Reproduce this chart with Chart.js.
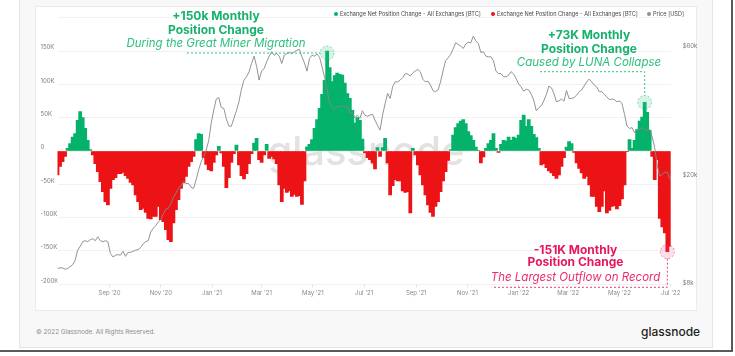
<!DOCTYPE html>
<html><head><meta charset="utf-8">
<script src="https://cdn.jsdelivr.net/npm/chart.js@4.4.1/dist/chart.umd.min.js"></script>
<style>
html,body{margin:0;padding:0;background:#fff;width:735px;height:356px;overflow:hidden;font-family:Inter,"Noto Sans",sans-serif;}
#card{position:absolute;left:19px;top:-2px;width:694px;height:350px;background:#f8f8f8;border:1px solid #e4e4e4;box-sizing:border-box;}
#panel{position:absolute;left:35px;top:6px;width:662px;height:305px;background:#fff;border:1px solid #ebebeb;box-sizing:border-box;}
#frameR{position:absolute;left:731px;top:0;width:2px;height:352px;background:#5a5a5a;}
#frameB{position:absolute;left:0;top:350px;width:733px;height:2px;background:#5a5a5a;}
#wrap{position:absolute;left:0;top:0;width:735px;height:320px;}
.leg{position:absolute;top:10.8px;font-size:5.6px;line-height:7px;color:#444;white-space:nowrap;}
.leg i{position:absolute;left:-6px;top:1.5px;width:4px;height:4px;border-radius:50%;}
#copy{position:absolute;left:36px;top:328px;font-size:6.3px;line-height:8px;color:#8c8c8c;white-space:nowrap;}
#logo{position:absolute;left:641px;top:324px;font-size:12px;line-height:16px;font-weight:500;color:#222;}
</style></head>
<body>
<div id="card"></div>
<div id="panel"></div>
<div id="frameR"></div><div id="frameB"></div>
<div id="wrap"><canvas id="c"></canvas></div>
<div class="leg" style="left:340px"><i style="background:#05b26b"></i>Exchange Net Position Change - All Exchanges [BTC]</div>
<div class="leg" style="left:497px"><i style="background:#ec1316"></i>Exchange Net Position Change - All Exchanges [BTC]</div>
<div class="leg" style="left:653px"><i style="background:#8f8f8f"></i>Price [USD]</div>
<div id="copy">© 2022 Glassnode. All Rights Reserved.</div>
<div id="logo">glassnode</div>
<script>
// ---- data (one point every 3 days starting 2020-07-01) ----
const startDate = '2020-07-01';
const stepDays = 3;
// Exchange net position change, thousands of BTC
const netPositionK = [
 -36,-23,-16,-8,4,11,21,26,46,59,
 50,34,16,2,-6,-19,-31,-46,-61,-76,
 -81,-56,-43,-40,-34,-34,-32,-37,-41,-47,
 -51,-66,-76,-88,-86,-92,-101,-102,-98,-98,
 -83,-103,-106,-118,-133,-136,-108,-88,-73,-56,
 -48,-38,-23,-16,-8,17,26,25,-10,-20,
 -28,-30,-17,-6,7,-3,-23,-55,-40,-17,
 -4,9,-21,-37,-42,-34,-19,-4,12,19,
 -13,-17,-6,10,-11,-8,-12,-19,-51,-76,
 -56,-62,-60,-68,-65,-68,-67,-80,-45,6,
 10,17,34,47,64,85,106,150,125,104,
 113,117,115,114,102,86,79,61,42,50,
 46,
 18,-3,-10,-13,-18,-27,5,-8,5,19,
 -18,-66,-52,-43,-45,-45,-60,-62,-61,-93,
 4,-6,-21,-36,-51,-66,-81,-92,-98,-83,
 -76,-61,-45,-31,-14,2,24,35,41,45,
 47,41,29,23,16,6,1,-18,-9,4,
 11,16,26,4,-2,10,16,15,21,
 16,21,19,24,46,54,37,47,37,25,
 20,4,-21,-19,-25,-30,-33,-37,-41,-36,
 -23,-10,6,14,11,-2,-18,-26,-33,-41,
 -38,-51,-68,-68,-83,-91,-83,-60,-93,-89,
 -83,-82,-87,-82,-72,-51,-1,17,4,16,
 32,45,51,73,58,31,-8,-43,-13,-101,
 -114,-123,-151,-143
];
// BTC price, thousands of USD
const priceK = [
 9.15,9.2,9.2,9.1,9.15,9.3,9.45,9.8,10.7,11.05,
 11.5,11.6,11.5,11.7,11.8,11.6,12.0,11.6,11.5,11.6,
 11.5,10.4,10.1,10.25,10.3,10.25,10.6,10.15,10.5,10.5,
 10.6,10.7,10.75,10.95,11.3,11.5,11.6,12.5,12.9,13.2,
 13.6,13.9,14.6,15.2,15.3,15.9,16.8,17.4,18.1,18.6,
 19.2,18.9,18.9,18.3,18.1,19.5,21.2,22.7,23.7,25.1,
 27.2,31.6,35.3,38.8,39.3,36.1,35.8,32.8,30.8,30.8,
 32.9,35.1,37.9,42.2,45.6,46.9,48.9,52.5,55.9,51.3,
 45.6,49.3,50.3,53.3,55.9,58.0,56.4,57.2,55.9,52.5,
 56.4,57.2,57.7,57.2,58.0,58.8,59.2,55.6,52.8,49.2,
 54.8,56.4,55.9,56.9,55.3,51.0,46.6,41.9,37.3,36.1,
 35.5,36.5,36.1,36.8,36.1,36.5,34.5,34.5,33.1,33.8,
 32.9,
 35.1,33.8,33.5,33.8,34.1,32.4,31.0,29.8,33.8,37.3,
 40.7,39.0,43.1,44.9,44.9,45.6,46.6,48.2,48.0,47.2,
 48.5,49.3,49.9,48.9,45.9,44.9,45.2,43.7,41.7,41.3,
 41.9,44.9,49.3,53.8,55.1,56.7,59.4,62.6,61.8,60.9,
 59.7,62.0,63.0,62.6,66.3,63.7,62.3,57.7,58.0,55.9,
 55.6,55.6,53.8,49.2,48.2,48.2,46.9,46.9,47.5,
 49.0,48.0,46.2,44.1,43.0,41.5,42.2,41.9,40.4,38.4,
 35.1,36.0,36.7,38.2,40.4,43.3,42.7,40.7,37.9,38.2,
 38.8,38.1,41.7,39.0,39.0,39.3,40.1,41.3,41.9,43.4,
 44.9,46.0,44.9,43.7,43.0,41.3,41.3,40.4,39.5,38.6,
 38.8,38.6,37.9,38.2,37.3,34.1,30.8,30.2,30.4,29.1,
 29.9,29.9,30.4,29.8,29.8,29.9,28.1,25.6,22.1,20.1,
 20.4,20.8,20.8,19.6
];
const xTickDates = ['2020-09-01','2020-11-01','2021-01-01','2021-03-01','2021-05-01','2021-07-01','2021-09-01','2021-11-01','2022-01-01','2022-03-01','2022-05-01','2022-07-01'];
const xTickLabels = ["Sep '20","Nov '20","Jan '21","Mar '21","May '21","Jul '21","Sep '21","Nov '21","Jan '22","Mar '22","May '22","Jul '22"];
const priceTicks = [8, 20, 60];
const priceTickLabels = ['$8k', '$20k', '$60k'];
// annotated points: date offset (days) and value (K BTC)
const noteDays = [321, 699, 726];
const noteValues = [147, 73, -151];

// ---- helpers ----
function dayOf(s){const a=s.split('-').map(Number),b=startDate.split('-').map(Number);return (Date.UTC(a[0],a[1]-1,a[2])-Date.UTC(b[0],b[1]-1,b[2]))/864e5;}
const lastDay = dayOf('2022-07-01');
const xTickDays = xTickDates.map(dayOf);
const GREEN='#05b26b', RED='#ec1316';
const posData = netPositionK.map((v,i)=>({x:i*stepDays,y:v})).filter(p=>p.y>=0);
const negData = netPositionK.map((v,i)=>({x:i*stepDays,y:v})).filter(p=>p.y<0);
const priceData = priceK.map((v,i)=>({x:i*stepDays,y:v}));

Chart.defaults.font.family = 'Inter, "Noto Sans", sans-serif';

const watermark = {
  id:'watermark',
  beforeDatasetsDraw(chart){
    const {ctx}=chart;
    ctx.save();
    ctx.font='500 40px Inter, sans-serif';
    ctx.fillStyle='#e2e2e2';
    ctx.textAlign='center';ctx.textBaseline='alphabetic';
    ctx.fillText('glassnode', 366, 165);
    ctx.restore();
  }
};

function circle(ctx,cx,cy,r,fill,stroke){
  ctx.save();
  ctx.setLineDash([2,2]);
  ctx.beginPath();ctx.arc(cx,cy,r,0,Math.PI*2);
  ctx.fillStyle=fill;ctx.fill();
  ctx.strokeStyle=stroke;ctx.lineWidth=1;ctx.stroke();
  ctx.restore();
}
function lines(ctx,pts,color){
  ctx.save();ctx.setLineDash([2,2]);ctx.strokeStyle=color;ctx.lineWidth=1;
  ctx.beginPath();ctx.moveTo(pts[0][0],pts[0][1]);
  for(let i=1;i<pts.length;i++)ctx.lineTo(pts[i][0],pts[i][1]);
  ctx.stroke();ctx.restore();
}
function texts(ctx,cx,ys,strs,c1,c2){
  ctx.save();ctx.textAlign='center';ctx.textBaseline='middle';
  ctx.font='bold 12px Inter, sans-serif';ctx.fillStyle=c1;
  ctx.fillText(strs[0],cx,ys[0]);ctx.fillText(strs[1],cx,ys[1]);
  ctx.font='italic 11.5px Inter, sans-serif';ctx.fillStyle=c2;
  ctx.fillText(strs[2],cx,ys[2]);
  ctx.restore();
}
const notes = {
  id:'notes',
  afterDraw(chart){
    const {ctx,scales:{x,y}}=chart;
    const P=noteDays.map((d,i)=>[x.getPixelForValue(d),y.getPixelForValue(noteValues[i])]);
    const r=7;
    const g1='rgba(20,182,110,0.85)';
    lines(ctx,[[187,P[0][1]],[P[0][0]-r,P[0][1]]],g1);
    circle(ctx,P[0][0],P[0][1],r,'rgba(29,190,120,0.18)','rgba(29,190,120,0.5)');
    texts(ctx,216,[16,30,43.5],['+150k Monthly','Position Change','During the Great Miner Migration'],'#16b26c','#2ec07e');
    lines(ctx,[[540,71.7],[P[1][0],71.7],[P[1][0],P[1][1]-r]],g1);
    circle(ctx,P[1][0],P[1][1],r,'rgba(29,190,120,0.18)','rgba(29,190,120,0.5)');
    texts(ctx,589,[35,49.3,62.7],['+73K Monthly','Position Change','Caused by LUNA Collapse'],'#16b26c','#2ec07e');
    const p1='rgba(232,23,93,0.85)';
    lines(ctx,[[P[2][0],P[2][1]+r],[P[2][0],287.3],[491.7,287.3]],p1);
    circle(ctx,P[2][0],P[2][1],r,'rgba(240,80,140,0.18)','rgba(232,23,93,0.5)');
    texts(ctx,575.5,[250,262.7,277.3],['-151K Monthly','Position Change','The Largest Outflow on Record'],'#e8175d','#ec2d6a');
  }
};

new Chart(document.getElementById('c'),{
  type:'bar',
  data:{datasets:[
    {type:'line',label:'Price [USD]',data:priceData,yAxisID:'y2',borderColor:'rgba(135,135,135,0.9)',borderWidth:1,pointRadius:0,tension:0,order:0},
    {label:'Exchange Net Position Change - All Exchanges [BTC]',data:posData,yAxisID:'y',backgroundColor:GREEN,barThickness:3.1,borderWidth:0,grouped:false,order:1},
    {label:'Exchange Net Position Change - All Exchanges [BTC]',data:negData,yAxisID:'y',backgroundColor:RED,barThickness:3.1,borderWidth:0,grouped:false,order:2}
  ]},
  options:{
    responsive:true,maintainAspectRatio:false,animation:false,
    layout:{padding:{left:40.5,top:17.7,right:0,bottom:0}},
    plugins:{legend:{display:false},tooltip:{enabled:false}},
    scales:{
      x:{type:'linear',min:0,max:lastDay,offset:false,
        afterBuildTicks:s=>{s.ticks=xTickDays.map(v=>({value:v}));},
        afterFit:s=>{s.height=35.7;},
        grid:{drawOnChartArea:false,tickLength:3,color:'#e2e2e2',offset:false},border:{display:false},
        ticks:{autoSkip:false,maxRotation:0,padding:2,color:'#8a8a8a',font:{size:6},
          callback:v=>xTickLabels[xTickDays.indexOf(v)]}},
      y:{type:'linear',position:'left',min:-200,max:200,
        afterFit:s=>{s.width=17;},
        grid:{color:'#f1f1f1',drawTicks:false},border:{display:false},
        ticks:{stepSize:50,crossAlign:'far',padding:0,labelOffset:-3.5,color:'#7a7a7a',font:{size:6},
          callback:v=>v===200?'':(v===0?'0':v+'K')}},
      y2:{type:'logarithmic',position:'right',min:8,max:77.6,
        afterBuildTicks:s=>{s.ticks=priceTicks.map(v=>({value:v}));},
        afterFit:s=>{s.width=735-670.7;},
        grid:{display:false},border:{display:false},
        ticks:{padding:4,labelOffset:-1.5,color:'#7a7a7a',font:{size:6},
          callback:v=>priceTickLabels[priceTicks.indexOf(v)]}}
    }
  },
  plugins:[watermark,notes]
});
</script>
</body></html>
